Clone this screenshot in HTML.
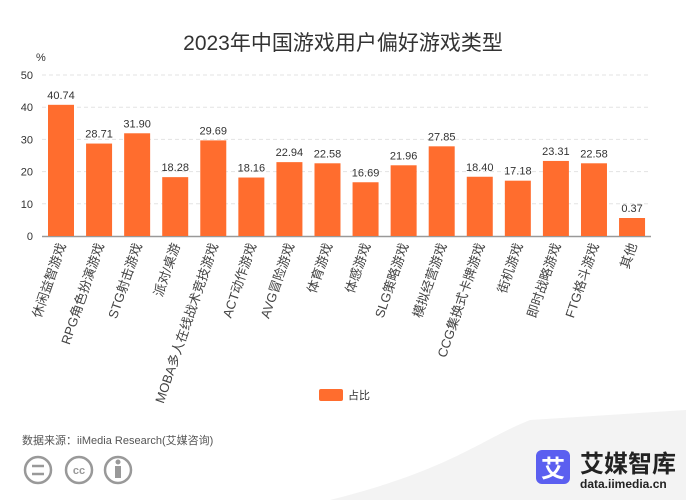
<!DOCTYPE html>
<html><head><meta charset="utf-8"><style>
body{margin:0;background:#fff;font-family:"Liberation Sans","Noto Sans CJK SC",sans-serif}
svg{display:block}
</style></head><body>
<svg width="686" height="500" viewBox="0 0 686 500" id="svg">
<path d="M330 500 C 450 470, 480 440, 530 420 L686 410 L686 500 Z" fill="#f3f3f3"/>
<text x="343" y="50" text-anchor="middle" font-size="21" fill="#333">2023年中国游戏用户偏好游戏类型</text>
<text x="36" y="61" font-size="11" fill="#333">%</text>
<g id="grid"></g><g id="bars"></g><g id="labels"></g>
<rect x="319" y="389" width="24" height="12" rx="2" fill="#ff6d2e"/>
<text x="348" y="399" font-size="11" fill="#333">占比</text>
<text x="22" y="444" font-size="11" fill="#555">数据来源：iiMedia Research(艾媒咨询)</text>
<g fill="none" stroke="#999" stroke-width="2.5">
<circle cx="38" cy="470" r="13"/><circle cx="79" cy="470" r="13"/><circle cx="118" cy="470" r="13"/>
<line x1="32" y1="466" x2="44" y2="466"/><line x1="32" y1="474" x2="44" y2="474"/>
</g>
<text x="79" y="474" font-size="11" text-anchor="middle" fill="#999" font-weight="bold">cc</text>
<rect x="115" y="466" width="6" height="12" fill="#999"/><circle cx="118" cy="462" r="2.5" fill="#999"/>
<rect x="536" y="450" width="34" height="34" rx="6" fill="#5b5ff0"/>
<text x="553" y="477" font-size="24" text-anchor="middle" fill="#fff" font-weight="bold">艾</text>
<text x="580" y="472" font-size="24" fill="#222" font-weight="bold">艾媒智库</text>
<text x="580" y="488" font-size="12" fill="#222" font-weight="bold">data.iimedia.cn</text>
</svg>
<script>
const categories=["休闲益智游戏","RPG角色扮演游戏","STG射击游戏","派对/桌游","MOBA多人在线战术竞技游戏","ACT动作游戏","AVG冒险游戏","体育游戏","体感游戏","SLG策略游戏","模拟经营游戏","CCG集换式卡牌游戏","街机游戏","即时战略游戏","FTG格斗游戏","其他"];
const values=[40.74,28.71,31.90,18.28,29.69,18.16,22.94,22.58,16.69,21.96,27.85,18.40,17.18,23.31,22.58,0.37];
const yTicks=[0,10,20,30,40,50];
const ns="http://www.w3.org/2000/svg";
const y0=236,pxPer=3.22,x0=61,slot=38.07,bw=26;
const ys=v=>y0-v*pxPer, xs=i=>x0+i*slot;
function mk(t,a,p){const e=document.createElementNS(ns,t);for(const k in a)e.setAttribute(k,a[k]);p.appendChild(e);return e;}
const grid=document.getElementById('grid'),bars=document.getElementById('bars'),labels=document.getElementById('labels');
yTicks.forEach(t=>{
 if(t>0){const l=mk('line',{x1:42,x2:651,y1:ys(t),y2:ys(t),stroke:'#e3e3e3','stroke-dasharray':'4,3'},grid);
 
 }
 const tx=mk('text',{x:33,y:ys(t)+4,'text-anchor':'end','font-size':11,fill:'#333'},grid);tx.textContent=t;
 
 
});
const ax=mk('line',{x1:42,x2:651,y1:y0+0.5,y2:y0+0.5,stroke:'#999','stroke-width':1.5},grid);


values.forEach((v,i)=>{
 const h=Math.max(v*pxPer,18);
 const r=mk('rect',{x:xs(i)-bw/2,y:y0-h,width:bw,height:h,fill:'#ff6d2e'},bars);
 
 
 const t=mk('text',{x:xs(i),y:y0-h-6,'text-anchor':'middle','font-size':11,fill:'#333'},labels);t.textContent=v.toFixed(2);
 
 
 const c=mk('text',{x:0,y:0,'text-anchor':'end','font-size':13,fill:'#444',transform:`translate(${xs(i)+5},${y0+9}) rotate(-71)`},labels);c.textContent=categories[i];
 
 
});
</script>
</body></html>
